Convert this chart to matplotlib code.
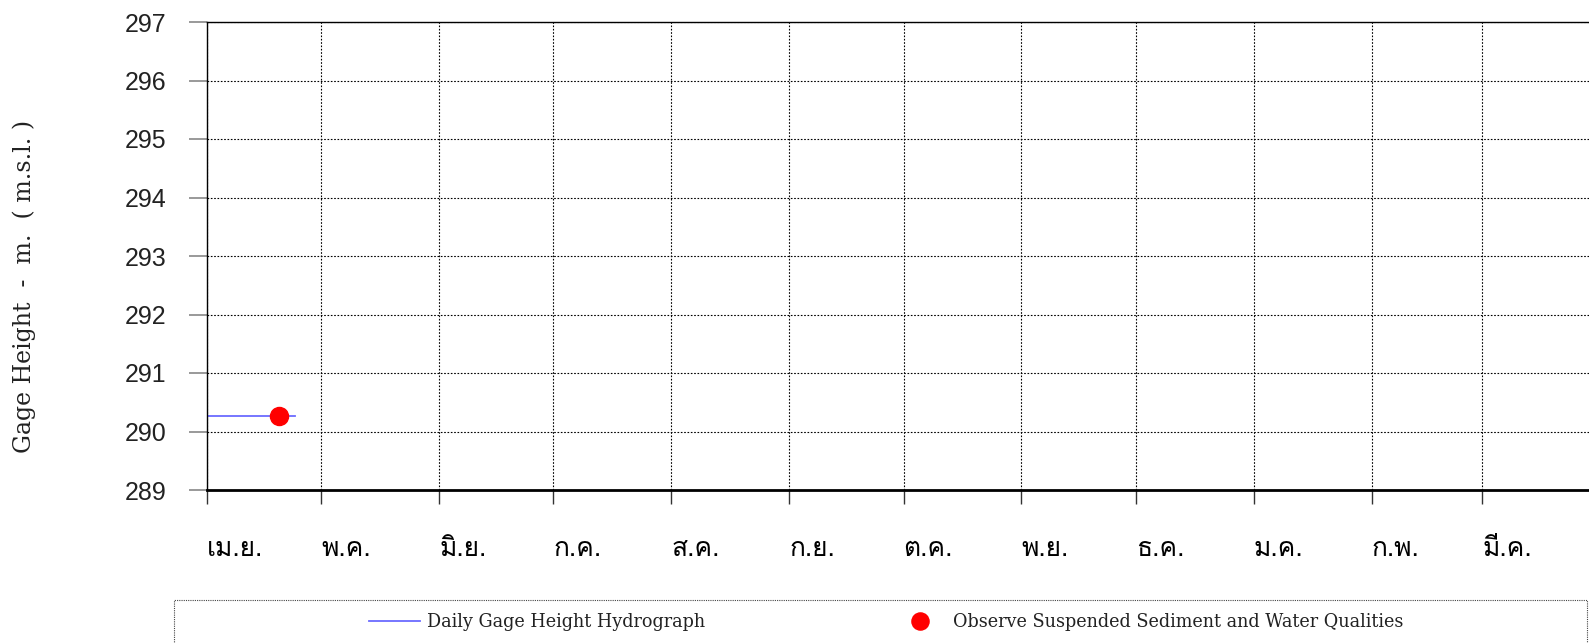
import datetime
import matplotlib
matplotlib.use("Agg")
import matplotlib.dates as mdates
from matplotlib import font_manager
from matplotlib.ft2font import FT2Font
from matplotlib.patches import Rectangle
from matplotlib import pyplot as plt

# data
dates = [datetime.date(2023, 4, 1) + datetime.timedelta(days=i) for i in range(24)]
gage_height = [290.27] * 24
sample_dates = [datetime.date(2023, 4, 20)]
sample_height = [290.27]
month_labels = ["เม.ย.", "พ.ค.", "มิ.ย.", "ก.ค.", "ส.ค.", "ก.ย.",
                "ต.ค.", "พ.ย.", "ธ.ค.", "ม.ค.", "ก.พ.", "มี.ค."]
month_starts = [datetime.date(2023 + (4 + i - 1) // 12, (4 + i - 1) % 12 + 1, 1) for i in range(12)]
y_ticks = list(range(289, 298))


def find_thai_font():
    # look for any installed font that has thai glyphs
    for f in font_manager.fontManager.ttflist:
        try:
            cmap = FT2Font(f.fname).get_charmap()
        except Exception:
            continue
        if 0x0E01 in cmap and 0x0E22 in cmap:
            return f.name
    return "DejaVu Sans"


thai_font = find_thai_font()

fig = plt.figure(figsize=(15.89, 6.43), dpi=100)
W, H = 1589, 643
ax = fig.add_axes([207 / W, 1 - 490 / H, 1393 / W, 468 / H])

ax.plot(dates, gage_height, color="#6b6bff", lw=1.3, label="Daily Gage Height Hydrograph")
ax.plot(sample_dates, sample_height, "o", color="red", markersize=13, ls="none",
        label="Observe Suspended Sediment and Water Qualities")

ax.set_xlim(datetime.date(2023, 4, 1), datetime.date(2024, 4, 1))
ax.set_ylim(289, 297)
ax.set_yticks(y_ticks)
ax.set_yticklabels([str(v) for v in y_ticks], fontsize=18, family=["Liberation Sans", "DejaVu Sans"],
                   color="#222222")
ax.set_xticks([mdates.date2num(d) for d in month_starts])
ax.set_xticklabels(month_labels, fontsize=19, family=[thai_font, "DejaVu Sans"], ha="left")
ax.tick_params(axis="x", length=10, width=1, color="#333333", pad=24)
ax.tick_params(axis="y", length=13, width=1.2, color="#888888", pad=16.5)

ax.grid(True, color="black", linestyle=(0, (1.5, 1.5)), linewidth=0.8)
ax.spines["bottom"].set_linewidth(2)
ax.spines["right"].set_visible(False)
ax.spines["top"].set_linewidth(1)
ax.spines["left"].set_linewidth(1)

ax.set_ylabel("Gage Height  -  m.  ( m.s.l. )", fontsize=17, family="DejaVu Serif", color="#222222")
ax.yaxis.set_label_coords(-0.1225, 0.435)

# legend box
fig.patches.append(Rectangle((174 / W, -0.1), 1413 / W, 0.1 + (1 - 600 / H), transform=fig.transFigure,
                             fill=False, edgecolor="#444444", linestyle=(0, (1, 1)), linewidth=0.8))
handles, labels = ax.get_legend_handles_labels()
fig.legend(handles, labels, ncol=2, loc="center left", bbox_to_anchor=(353 / W, 1 - 622 / H),
           frameon=False, prop={"family": "DejaVu Serif", "size": 12.7},
           handlelength=2.9, handletextpad=0.4, columnspacing=10.75, markerscale=0.95,
           labelcolor="#222222")

plt.savefig("out.png", dpi=100)
